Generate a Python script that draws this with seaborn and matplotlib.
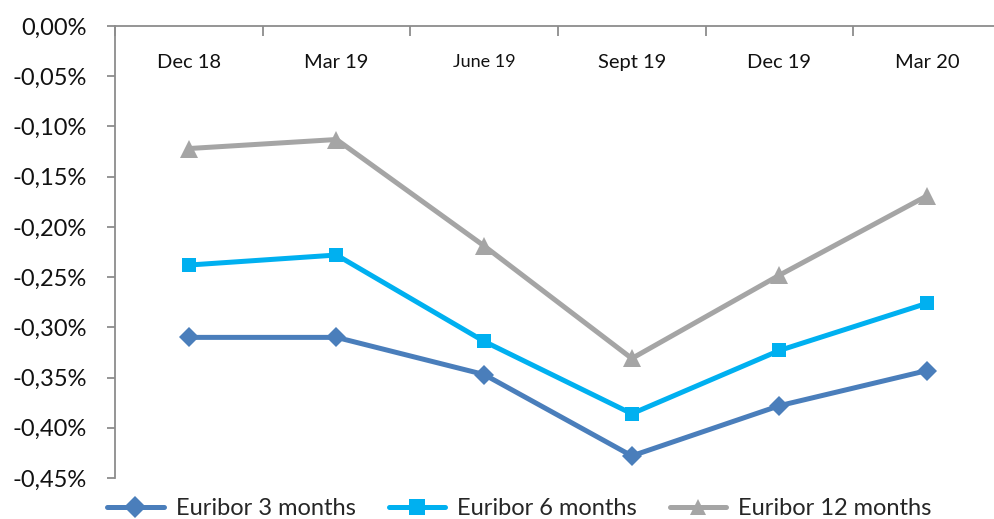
import matplotlib
matplotlib.use("Agg")
import matplotlib.pyplot as plt
import pandas as pd
import seaborn as sns
from matplotlib.ticker import FuncFormatter, FixedLocator

# Quarter-end Euribor fixings (in percent)
periods = ["Dec 18", "Mar 19", "June 19", "Sept 19", "Dec 19", "Mar 20"]
euribor_3m = [-0.310, -0.310, -0.347, -0.428, -0.378, -0.343]
euribor_6m = [-0.238, -0.228, -0.314, -0.386, -0.323, -0.276]
euribor_12m = [-0.122, -0.113, -0.219, -0.331, -0.248, -0.169]
series_names = ["Euribor 3 months", "Euribor 6 months", "Euribor 12 months"]
y_ticks = [0.0, -0.05, -0.10, -0.15, -0.20, -0.25, -0.30, -0.35, -0.40, -0.45]

rows = []
for name, vals in zip(series_names, [euribor_3m, euribor_6m, euribor_12m]):
    for i, (p, v) in enumerate(zip(periods, vals)):
        rows.append({"pos": i, "period": p, "rate": v, "series": name})
df = pd.DataFrame(rows)

sns.set_theme(style="white")
plt.rcParams["font.family"] = ["Lato", "DejaVu Sans"]

fig = plt.figure(figsize=(9.95, 5.19), dpi=100)
ax = fig.add_axes([115 / 995, 41 / 519, 886 / 995, 452 / 519])

palette = {"Euribor 3 months": "#4A7EBB",
           "Euribor 6 months": "#00B0F0",
           "Euribor 12 months": "#A5A5A5"}
markers = {"Euribor 3 months": "D",
           "Euribor 6 months": "s",
           "Euribor 12 months": "^"}
sizes_ms = {"Euribor 3 months": 10.5,
            "Euribor 6 months": 10.5,
            "Euribor 12 months": 12.5}

sns.lineplot(data=df, x="pos", y="rate", hue="series", style="series",
             palette=palette, markers=markers, dashes=False,
             linewidth=3.6, markersize=11, markeredgewidth=0,
             ax=ax, legend=True)

# per-series marker sizes
for line, name in zip(ax.get_lines(), series_names):
    line.set_markersize(sizes_ms[name])

ax.set_xlim(-0.5, 5.5)
ax.set_ylim(-0.45, 0.0)
ax.set_xlabel("")
ax.set_ylabel("")

axis_grey = "#8C8C8C"
for side in ["right", "bottom"]:
    ax.spines[side].set_visible(False)
for side in ["left", "top"]:
    ax.spines[side].set_color(axis_grey)
    ax.spines[side].set_linewidth(1.3)

# Category axis sits at zero (top), ticks between categories
ax.xaxis.set_ticks_position("top")
ax.xaxis.set_major_locator(FixedLocator([i - 0.5 for i in range(len(periods) + 1)]))
ax.tick_params(axis="x", which="major", direction="in", length=7,
               width=1.3, color=axis_grey, labeltop=False, labelbottom=False)
for i, p in enumerate(periods):
    ax.text(i, 0.92, p, transform=ax.get_xaxis_transform(),
            ha="center", va="center",
            fontsize=13 if p == "June 19" else 14.5, color="#111111")

ax.yaxis.set_major_locator(FixedLocator(y_ticks))
ax.yaxis.set_major_formatter(FuncFormatter(
    lambda v, _: ("%.2f%%" % abs(v) if abs(v) < 1e-9 else "%.2f%%" % v).replace(".", ",")))
ax.tick_params(axis="y", direction="out", length=6, width=1.3,
               color=axis_grey, pad=14, labelsize=17, labelcolor="#111111")
ax.yaxis.set_ticks_position("left")

handles, labels = ax.get_legend_handles_labels()
ax.get_legend().remove()
fig.legend(handles, labels, loc="center", bbox_to_anchor=(0.522, 0.02),
           ncol=3, frameon=False, fontsize=17, handlelength=2.4,
           handletextpad=0.5, columnspacing=1.4, borderaxespad=0)

fig.savefig("out.png", dpi=100)
